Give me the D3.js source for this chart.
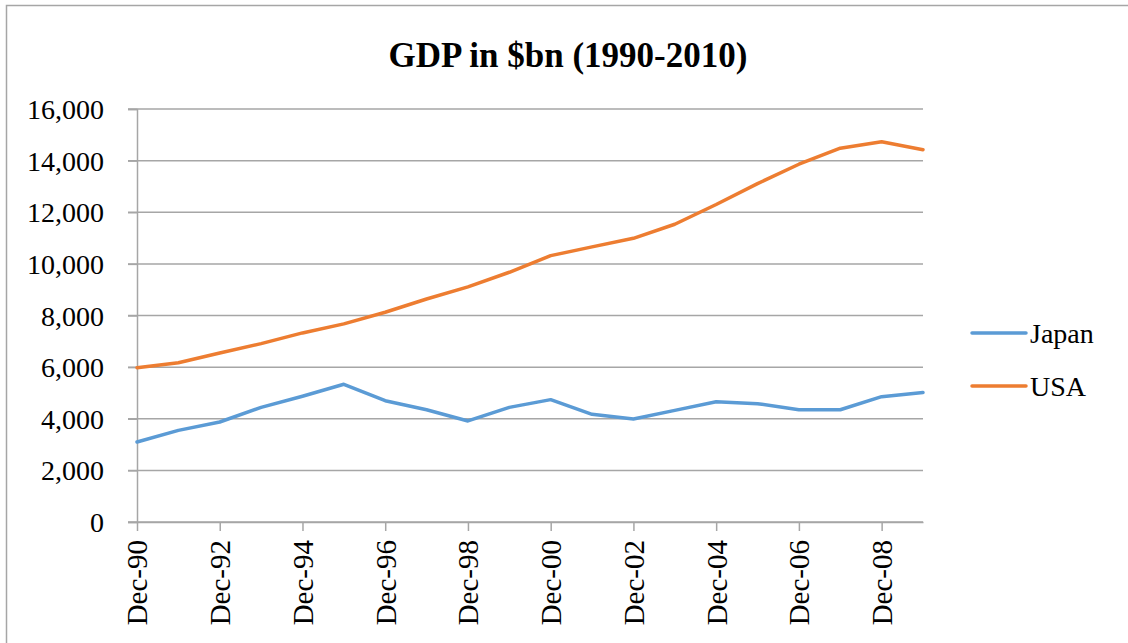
<!DOCTYPE html>
<html>
<head>
<meta charset="utf-8">
<script src="https://cdn.jsdelivr.net/npm/d3@7"></script>
<style>
  body { margin: 0; background: #fff; }
  svg text { font-family: "Liberation Serif", "Times New Roman", serif; fill: #000; }
</style>
</head>
<body>
<svg id="chart" width="1128" height="643"></svg>
<script>
const months = ["Dec-90","Dec-91","Dec-92","Dec-93","Dec-94","Dec-95","Dec-96","Dec-97","Dec-98","Dec-99",
                "Dec-00","Dec-01","Dec-02","Dec-03","Dec-04","Dec-05","Dec-06","Dec-07","Dec-08","Dec-09"];
const japan = [3100, 3550, 3875, 4440, 4870, 5335, 4700, 4350, 3915, 4440,
               4740, 4170, 3990, 4325, 4660, 4585, 4350, 4350, 4855, 5020];
const usa = [5980, 6170, 6550, 6910, 7325, 7675, 8125, 8640, 9110, 9675,
             10320, 10660, 10990, 11535, 12300, 13110, 13860, 14480, 14730, 14420];
const yTicks = [0, 2000, 4000, 6000, 8000, 10000, 12000, 14000, 16000];
const series = [
    { name: "Japan", values: japan, color: "#5B9BD5" },
    { name: "USA", values: usa, color: "#ED7D31" }
];

const svg = d3.select("#chart");

// chart frame
svg.append("rect")
    .attr("x", 6.5).attr("y", 5.5)
    .attr("width", 1140).attr("height", 660)
    .attr("fill", "none")
    .attr("stroke", "#a6a6a6")
    .attr("stroke-width", 1.5);

const x = d3.scalePoint().domain(months).range([137, 923]);
const y = d3.scaleLinear().domain([0, 16000]).range([522, 109]);

// gridlines
svg.append("g")
    .selectAll("line")
    .data(yTicks)
    .enter()
    .append("line")
    .attr("x1", 128).attr("x2", 923)
    .attr("y1", d => y(d)).attr("y2", d => y(d))
    .attr("stroke", "#a6a6a6")
    .attr("stroke-width", 1.5);

// y axis
const yAxis = svg.append("g")
    .attr("transform", "translate(137,0)")
    .call(d3.axisLeft(y).tickValues(yTicks).tickFormat(d3.format(",")).tickSize(9).tickPadding(24));
yAxis.select(".domain").attr("stroke", "#a6a6a6").attr("stroke-width", 1.5);
yAxis.selectAll(".tick line").attr("stroke", "#a6a6a6").attr("stroke-width", 1.5);
yAxis.selectAll("text")
    .style("font-family", "Liberation Serif")
    .style("font-size", "28px")
    .attr("fill", "#000")
    .attr("dy", "0.34em");

// x axis
const xAxis = svg.append("g")
    .attr("transform", "translate(0,522)")
    .call(d3.axisBottom(x).tickValues(months.filter((d, i) => i % 2 === 0)).tickSize(9).tickSizeOuter(0));
xAxis.select(".domain").attr("stroke", "#a6a6a6").attr("stroke-width", 1.5);
xAxis.selectAll(".tick line").attr("stroke", "#a6a6a6").attr("stroke-width", 1.5);
xAxis.selectAll("text")
    .style("font-family", "Liberation Serif")
    .style("font-size", "29px")
    .attr("fill", "#000")
    .attr("text-anchor", "end")
    .attr("transform", "rotate(-90)")
    .attr("x", -18)
    .attr("y", 0)
    .attr("dy", "0.34em");

// lines
const line = d3.line()
    .x((d, i) => x(months[i]))
    .y(d => y(d));

svg.append("g")
    .selectAll("path")
    .data(series)
    .enter()
    .append("path")
    .attr("d", d => line(d.values))
    .attr("fill", "none")
    .attr("stroke", d => d.color)
    .attr("stroke-width", 3.5)
    .attr("stroke-linejoin", "round")
    .attr("stroke-linecap", "round");

// title
svg.append("text")
    .attr("x", 568)
    .attr("y", 67)
    .attr("text-anchor", "middle")
    .style("font-size", "35px")
    .style("font-weight", "bold")
    .text("GDP in $bn (1990-2010)");

// legend
const legend = svg.append("g")
    .selectAll("g")
    .data(series)
    .enter()
    .append("g")
    .attr("transform", (d, i) => `translate(972,${333 + i * 53})`);

legend.append("line")
    .attr("x1", 0).attr("x2", 54)
    .attr("stroke", d => d.color)
    .attr("stroke-width", 3.5)
    .attr("stroke-linecap", "round");

legend.append("text")
    .attr("x", 58)
    .attr("dy", "0.34em")
    .style("font-size", "28px")
    .text(d => d.name);
</script>
</body>
</html>
